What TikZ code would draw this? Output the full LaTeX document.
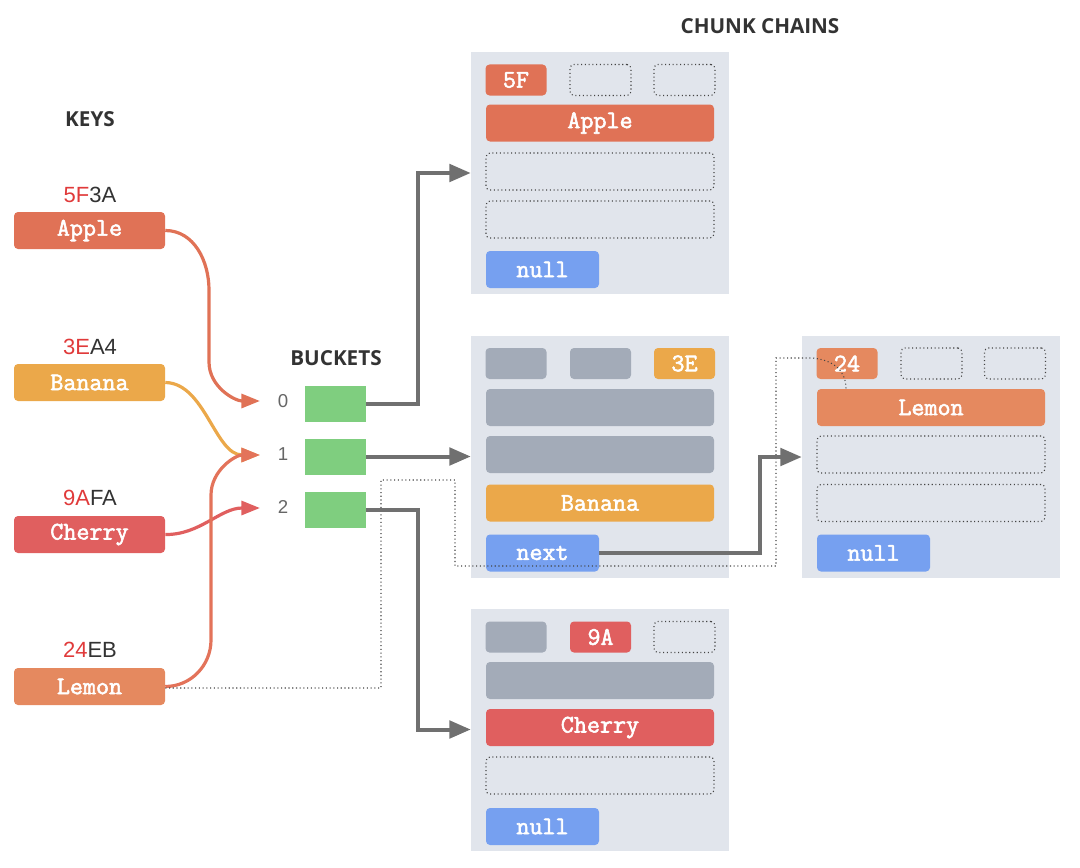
\documentclass[tikz,border=0pt]{standalone}
\usepackage{fontspec}
\usetikzlibrary{arrows.meta}
\newfontfamily\headf{Open Sans}
\newfontfamily\sansf{Liberation Sans}
\newfontfamily\monof{Latin Modern Mono}[FakeBold=2.2]
\definecolor{applec}{HTML}{E07256}
\definecolor{bananac}{HTML}{EBA84A}
\definecolor{cherryc}{HTML}{E05F5F}
\definecolor{lemonc}{HTML}{E5895F}
\definecolor{lemonline}{HTML}{E3735A}
\definecolor{chunkbg}{HTML}{E1E5EC}
\definecolor{slotgray}{HTML}{A3ABB8}
\definecolor{ptrblue}{HTML}{76A0F0}
\definecolor{bucketg}{HTML}{7FCE7F}
\definecolor{arrowg}{HTML}{707070}
\definecolor{dotc}{HTML}{444444}
\definecolor{hashred}{HTML}{E03A3A}
\definecolor{darktext}{HTML}{333333}
\begin{document}
\begin{tikzpicture}[x=0.75pt,y=-0.75pt,
  mfont/.style={font=\monof\fontsize{19}{19}\selectfont, text=white},
  keybox/.style={fill=#1, rounded corners=3pt, minimum width=113.25pt, minimum height=27.75pt, inner sep=0pt, mfont},
  head/.style={font=\headf\bfseries\fontsize{15.5}{15.5}\selectfont, text=darktext},
  hashlbl/.style={font=\sansf\fontsize{16.5}{16.5}\selectfont, text=darktext, inner sep=0pt},
  bucket/.style={fill=bucketg, minimum width=45.75pt, minimum height=27pt, inner sep=0pt},
  bnum/.style={font=\sansf\fontsize{14}{14}\selectfont, text=black!60, inner sep=0pt},
  chunk/.style={fill=chunkbg, minimum width=193.5pt, minimum height=181.5pt, inner sep=0pt},
  slot/.style={rounded corners=3pt, minimum width=45.75pt, minimum height=23.25pt, inner sep=0pt, mfont},
  wide/.style={rounded corners=3pt, minimum width=171pt, minimum height=27.75pt, inner sep=0pt, mfont},
  ptr/.style={fill=ptrblue, rounded corners=3pt, minimum width=84.75pt, minimum height=27.75pt, inner sep=0pt, mfont},
  emptyc/.style={draw=dotc, dotted, line width=0.8pt},
  grayc/.style={fill=slotgray},
  carrow/.style={draw=#1, line width=2.4pt, -{Triangle[length=14pt,width=10.5pt]}},
  garrow/.style={draw=arrowg, line width=3pt, -{Triangle[length=16pt,width=13pt]}},
  dline/.style={draw=dotc, dotted, line width=0.8pt}
]
\useasboundingbox (0,0) rectangle (1080,867);

% headings
\node[head] (hkeys) at (90,119) {KEYS};
\node[head] (hbuckets) at (336,358) {BUCKETS};
\node[head] (hchunks) at (760,26) {CHUNK CHAINS};

% keys
\node[hashlbl] (h1) at (90,195) {\textcolor{hashred}{5F}3A};
\node[keybox=applec] (kapple) at (89.5,230.5) {Apple};
\node[hashlbl] (h2) at (90,347) {\textcolor{hashred}{3E}A4};
\node[keybox=bananac] (kbanana) at (89.5,382.5) {Banana};
\node[hashlbl] (h3) at (90,498) {\textcolor{hashred}{9A}FA};
\node[keybox=cherryc] (kcherry) at (89.5,534.5) {Cherry};
\node[hashlbl] (h4) at (90,650) {\textcolor{hashred}{24}EB};
\node[keybox=lemonc] (klemon) at (89.5,686.5) {Lemon};

% buckets
\node[bucket] (b0) at (335.5,404) {};
\node[bucket] (b1) at (335.5,456.5) {};
\node[bucket] (b2) at (335.5,509.5) {};
\node[bnum] (n0) at (283,401) {0};
\node[bnum] (n1) at (283,454) {1};
\node[bnum] (n2) at (283,507) {2};
\coordinate (t0) at (260,401);
\coordinate (t1) at (260,455);
\coordinate (t2) at (260,508);

% chunk A
\node[chunk] (chA) at (600,173) {};
\node[slot, fill=applec] (a1) at (516,80) {5F};
\node[slot, emptyc] (a2) at (600.5,80) {};
\node[slot, emptyc] (a3) at (684.5,80) {};
\node[wide, fill=applec] (a4) at (600,123) {Apple};
\node[wide, emptyc] (a5) at (600,171.5) {};
\node[wide, emptyc] (a6) at (600,219.5) {};
\node[ptr] (anull) at (542.5,269.5) {null};

% chunk B
\node[chunk] (chB) at (600,457) {};
\node[slot, grayc] (bb1) at (516,363.5) {};
\node[slot, grayc] (bb2) at (600.5,363.5) {};
\node[slot, fill=bananac] (bb3) at (684.5,363.5) {3E};
\node[wide, grayc] (bb4) at (600,407.5) {};
\node[wide, grayc] (bb5) at (600,454.5) {};
\node[wide, fill=bananac] (bb6) at (600,503) {Banana};
\node[ptr] (bnext) at (542.5,553) {next};

% chunk D
\node[chunk] (chD) at (931,457) {};
\node[slot, fill=lemonc] (d1) at (847,363.5) {24};
\node[slot, emptyc] (d2) at (931.5,363.5) {};
\node[slot, emptyc] (d3) at (1015,363.5) {};
\node[wide, fill=lemonc] (d4) at (931,407.5) {Lemon};
\node[wide, emptyc] (d5) at (931,454.5) {};
\node[wide, emptyc] (d6) at (931,503) {};
\node[ptr] (dnull) at (873.5,553) {null};

% chunk C
\node[chunk] (chC) at (600,729.5) {};
\node[slot, grayc] (c1) at (516,637) {};
\node[slot, fill=cherryc] (c2) at (600.5,637) {9A};
\node[slot, emptyc] (c3) at (684.5,637) {};
\node[wide, grayc] (c4) at (600,680.5) {};
\node[wide, fill=cherryc] (c5) at (600,727.5) {Cherry};
\node[wide, emptyc] (c6) at (600,775.5) {};
\node[ptr] (cnull) at (542.5,826.5) {null};

% key arrows
\draw[carrow=applec] (kapple.east) to[out=0,in=90] (209,290) -- (209,362) to[out=-90,in=180] (t0);
\draw[carrow=bananac] (kbanana.east) .. controls (205,383) and (215,455) .. (t1);
\draw[carrow=cherryc] (kcherry.east) .. controls (200,535) and (220,508) .. (t2);
\draw[carrow=lemonline] (klemon.east) to[out=0,in=-90] (211,640) -- (211,495) to[out=90,in=180] (t1);

% dotted trace
\coordinate (p1) at (381,688);
\coordinate (p2) at (381,480);
\coordinate (p3) at (455,480);
\coordinate (p4) at (455,566);
\coordinate (p5) at (776,566);
\coordinate (p6) at (776,358);
\coordinate (p7) at (812,358);
\draw[dline] (klemon.east |- p1) -- (p1) -- (p2) -- (p3) -- (p4) -- (p5) -- (p6) -- (p7) .. controls (835,360) and (846,372) .. (d4.north -| 846,0);

% bucket arrows
\draw[garrow] (b0.east) -- (418,404) |- (chA.west);
\draw[garrow] (b1.east) -- (b1.east -| chB.west);
\draw[garrow] (b2.east) -- (418,509.5) |- (chC.west);
\draw[garrow] (bnext.east) -- (760,553) |- (chD.west);
\end{tikzpicture}
\end{document}
